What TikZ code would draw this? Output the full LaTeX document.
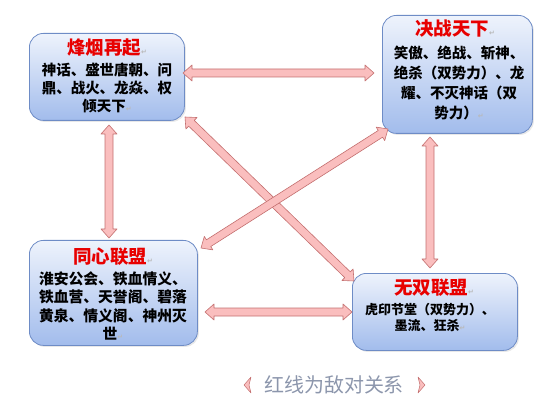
\documentclass[tikz,border=0pt]{standalone}
\usepackage{fontspec}
\setmainfont{Noto Sans CJK SC}
\newfontfamily\symfont{DejaVu Sans}
\usetikzlibrary{calc,shadows}
\definecolor{boxtop}{RGB}{238,243,252}
\definecolor{boxbot}{RGB}{162,188,236}
\definecolor{boxline}{RGB}{110,140,198}
\definecolor{arrfill}{RGB}{250,190,190}
\definecolor{arrline}{RGB}{196,112,112}
\definecolor{titlered}{RGB}{232,0,0}
\definecolor{notegray}{RGB}{140,150,172}
\newcommand\pmark{{\symfont\fontsize{7}{7}\selectfont\color{gray!55}↵}}
\newcommand\dblarr[2]{%
  \filldraw[duoarrow] (#1)
   -- ($(#1)!9pt!(#2)!8pt!-90:(#2)$) -- ($(#1)!9pt!(#2)!4pt!-90:(#2)$)
   -- ($(#2)!9pt!(#1)!4pt!90:(#1)$) -- ($(#2)!9pt!(#1)!8pt!90:(#1)$)
   -- (#2)
   -- ($(#2)!9pt!(#1)!8pt!-90:(#1)$) -- ($(#2)!9pt!(#1)!4pt!-90:(#1)$)
   -- ($(#1)!9pt!(#2)!4pt!90:(#2)$) -- ($(#1)!9pt!(#2)!8pt!90:(#2)$)
   -- cycle;}
\tikzset{
  gbox/.style={draw=boxline, line width=0.8pt, rounded corners=14pt,
    top color=boxtop, bottom color=boxbot, inner sep=0pt, anchor=north west,
    drop shadow={opacity=0.18, shadow xshift=1.5pt, shadow yshift=-1.5pt}},
  titletext/.style={text=titlered, font=\fontsize{18.5}{20}\selectfont\bfseries, inner sep=0pt},
  bodytext/.style={align=center, inner sep=0pt, font=\fontsize{14.5}{18}\selectfont\bfseries},
  duoarrow/.style={fill=arrfill, draw=arrline, line width=0.6pt, line join=round},
  chev/.style={fill=arrfill, draw=arrline, line width=0.5pt, line join=round}
}
\begin{document}
\begin{tikzpicture}[x=1pt,y=-1pt]
\useasboundingbox (0,0) rectangle (542,404);
% boxes
\node[gbox, minimum width=155pt, minimum height=87pt] (b1) at (29,33) {};
\node[gbox, minimum width=150pt, minimum height=118pt] (b2) at (382,15) {};
\node[gbox, minimum width=168pt, minimum height=105pt] (b3) at (29,240) {};
\node[gbox, minimum width=165pt, minimum height=77pt] (b4) at (352,273) {};
% texts
\node[titletext] (t1) at (107,48) {烽烟再起\pmark};
\node[bodytext] (s1) at (107,88) {神话、盛世唐朝、问\\鼎、战火、龙焱、权\\倾天下\pmark};
\node[titletext] (t2) at (455,28) {决战天下\pmark};
\node[bodytext, font=\fontsize{14.5}{20}\selectfont\bfseries] (s2) at (459,83) {笑傲、绝战、斩神、\\绝杀（双势力）、龙\\耀、不灭神话（双\\势力）\pmark};
\node[titletext] (t3) at (113,257) {同心联盟\pmark};
\node[bodytext, font=\fontsize{14.8}{18.5}\selectfont\bfseries] (s3) at (113,306) {淮安公会、铁血情义、\\铁血营、天誉阁、碧落\\黄泉、情义阁、神州灭\\世\pmark};
\node[titletext] (t4) at (434,288) {无双联盟\pmark};
\node[bodytext, font=\fontsize{13}{16}\selectfont\bfseries] (s4) at (430,318) {虎印节堂（双势力）、\\墨流、狂杀\pmark};
% arrow end points
\coordinate (a1) at (183,73);  \coordinate (a2) at (374,73);
\coordinate (l1) at (109,125); \coordinate (l2) at (109,238);
\coordinate (r1) at (430,137); \coordinate (r2) at (430,268);
\coordinate (c1) at (205,312); \coordinate (c2) at (352,312);
\coordinate (d1) at (185,117); \coordinate (d2) at (354,281);
\coordinate (e1) at (201,248); \coordinate (e2) at (388,129);
\dblarr{d1}{d2}
\dblarr{e1}{e2}
\dblarr{a1}{a2}
\dblarr{l1}{l2}
\dblarr{r1}{r2}
\dblarr{c1}{c2}
% note
\node[text=notegray, font=\fontsize{20}{22}\selectfont, inner sep=0pt] (note) at (334,385) {红线为敌对关系};
\filldraw[chev] (251,377) -- (244,385) -- (251,393) -- (249,385) -- cycle;
\filldraw[chev] (418,377) -- (425,385) -- (418,393) -- (420,385) -- cycle;
\end{tikzpicture}
\end{document}
